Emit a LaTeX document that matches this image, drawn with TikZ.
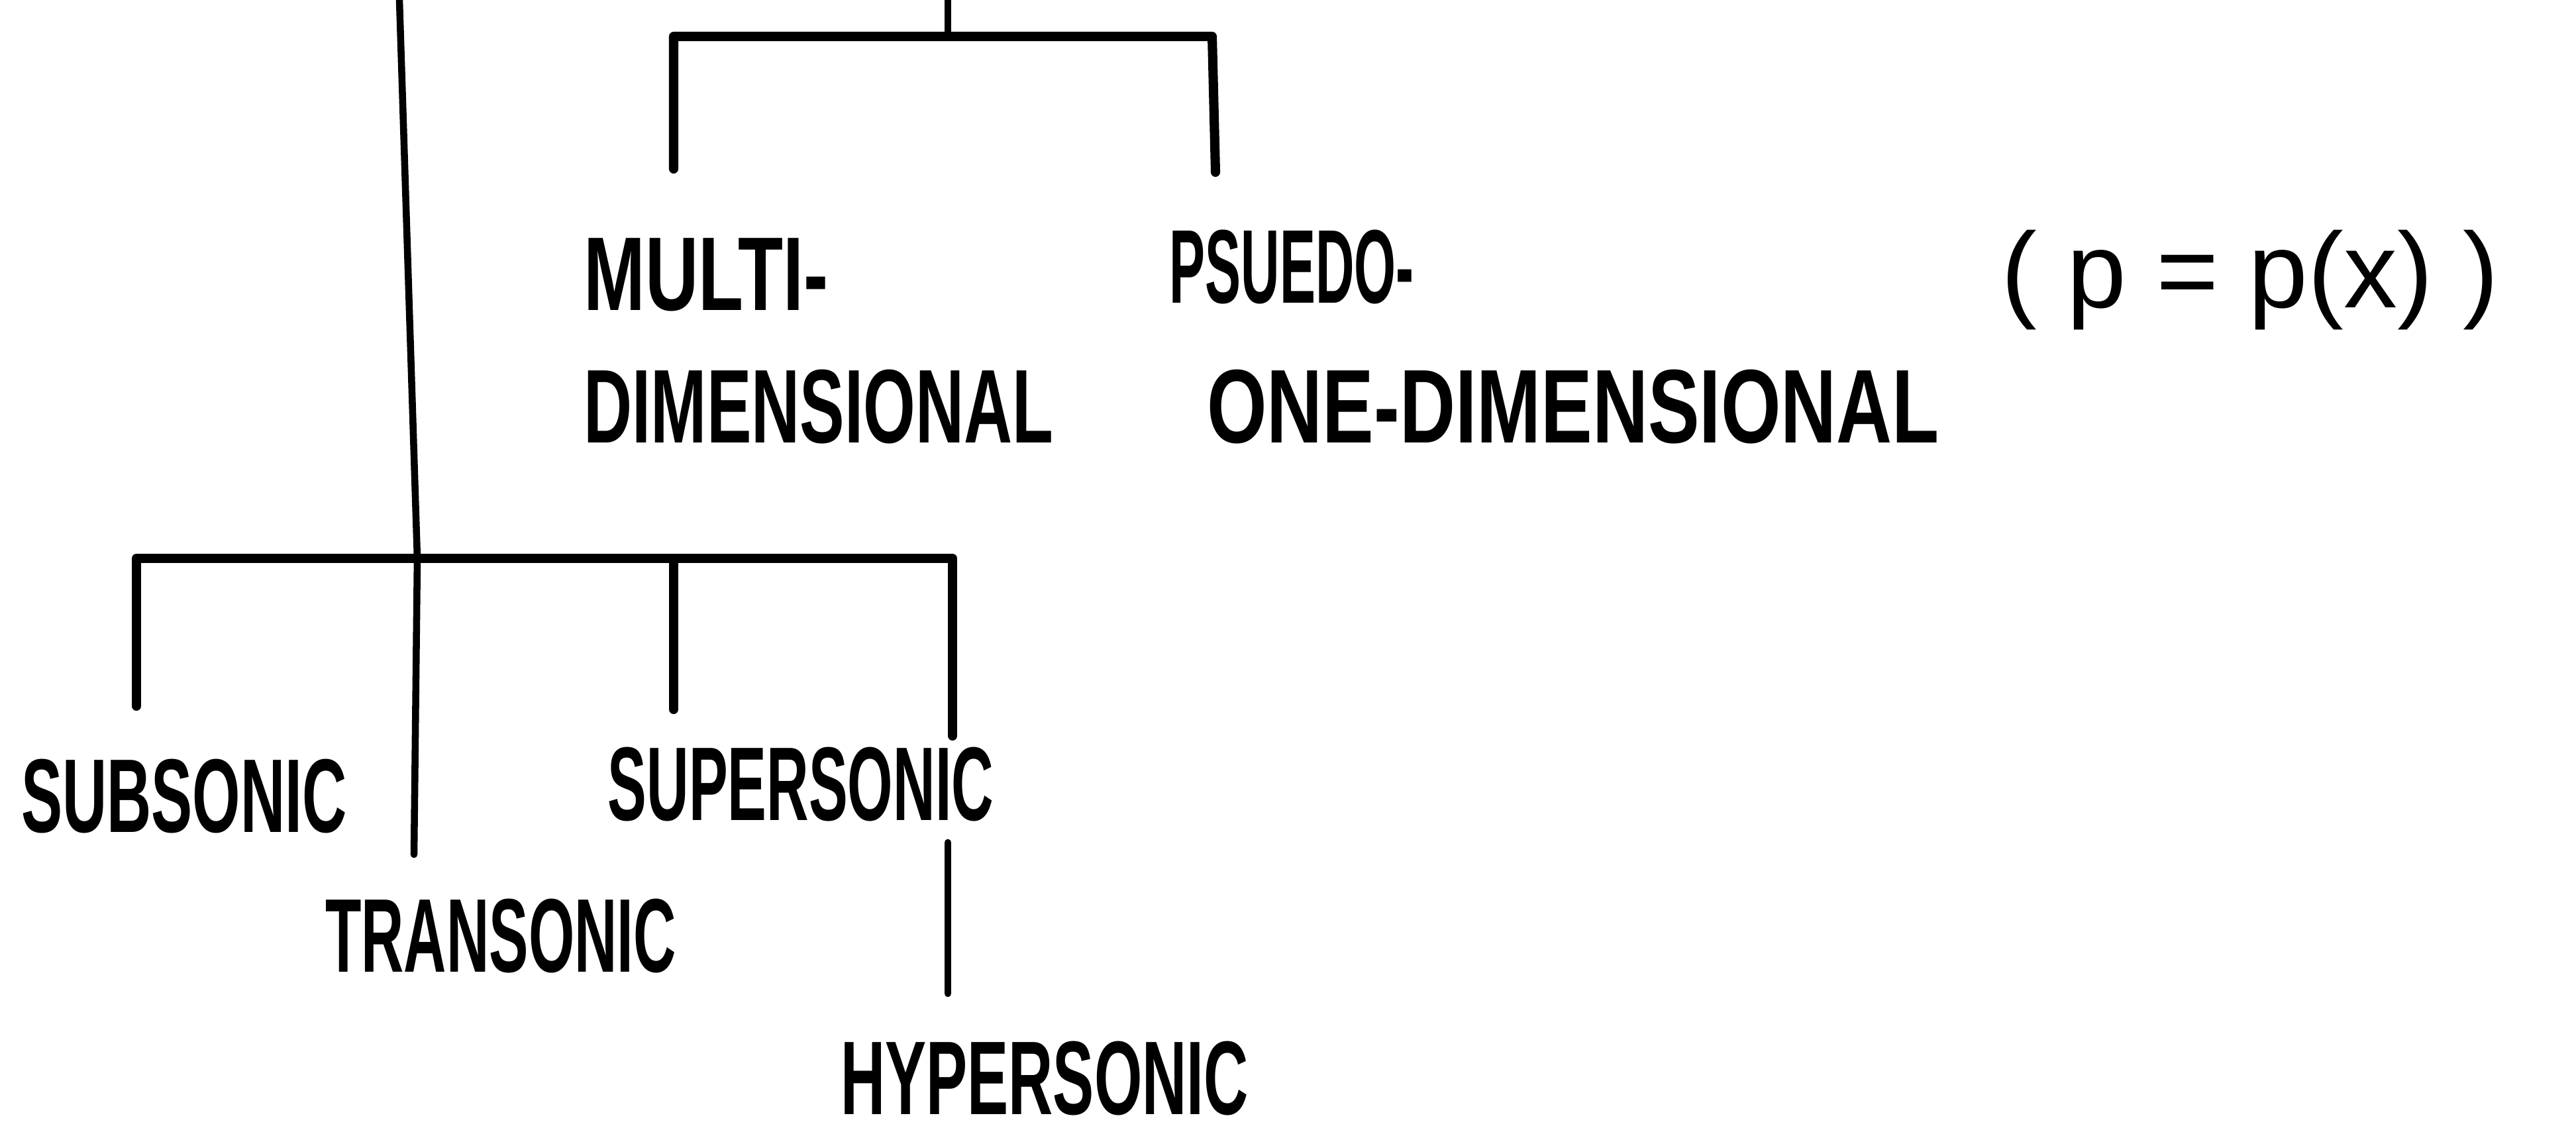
\documentclass[tikz,border=0pt]{standalone}
\usepackage{graphicx}
\usepackage{fontspec}
\newfontfamily\handfont[FakeStretch=0.64]{Liberation Sans Bold}
\newfontfamily\handwide{Liberation Sans}
% horizontally squeeze or widen a handwritten word
\newcommand\hw[2]{\scalebox{#1}[1]{#2}}
\begin{document}
\begin{tikzpicture}[
  x=1cm, y=1cm,
  wire/.style={line width=3pt, line cap=round, line join=round},
  bar/.style={line width=4pt, line cap=round, line join=round},
  label/.style={font=\handfont\fontsize{45}{45}\selectfont, inner sep=0pt, anchor=center},
  formula/.style={font=\handwide\fontsize{46}{46}\selectfont, inner sep=0pt, anchor=center}
]
\useasboundingbox (0,0) rectangle (38.89,17.08);

% upper branch: multi-dimensional vs pseudo-one-dimensional
\coordinate (topstem) at (14.31,17.08);
\coordinate (topmid) at (14.31,16.53);
\coordinate (topL) at (10.17,16.53);
\coordinate (topR) at (18.30,16.53);
\coordinate (legMulti) at (10.17,14.53);
\coordinate (legPseudo) at (18.35,14.48);

\node[label] (multi) at (10.66,12.93) {\hw{1.1}{MULTI-}};
\node[label] (dimen) at (12.36,10.94) {DIMENSIONAL};
\node[label] (pseudo) at (19.50,13.05) {\hw{0.8}{PSUEDO-}};
\node[label] (onedim) at (23.75,10.94) {\hw{1.15}{ONE-DIMENSIONAL}};
\node[formula] (pofx) at (33.97,12.85) {( p = p(x) )};

\draw[wire] (topstem) -- (topmid);
\draw[bar] (legMulti) -- (topL) -- (topR) -- (legPseudo);

% main trunk and the speed-regime branch
\coordinate (trunktop) at (6.03,17.08);
\coordinate (junction) at (6.30,8.65);
\coordinate (legTrans) at (6.25,4.18);
\coordinate (botL) at (2.06,8.65);
\coordinate (botR) at (14.38,8.65);
\coordinate (botS) at (10.17,8.65);
\coordinate (legSub) at (2.06,6.42);
\coordinate (legSuper) at (10.17,6.37);
\coordinate (legRight) at (14.38,5.97);
\coordinate (hypTop) at (14.31,4.36);
\coordinate (hypBot) at (14.31,2.08);

\node[label] (subsonic) at (2.78,5.06) {\hw{0.92}{SUBSONIC}};
\node[label] (transonic) at (7.56,2.95) {\hw{0.88}{TRANSONIC}};
\node[label] (supersonic) at (12.09,5.24) {\hw{0.87}{SUPERSONIC}};
\node[label] (hypersonic) at (15.77,0.80) {\hw{0.92}{HYPERSONIC}};

\draw[wire] (trunktop) -- (junction) -- (legTrans);
\draw[bar] (legSub) -- (botL) -- (botR) -- (legRight);
\draw[bar] (botS) -- (legSuper);
\draw[wire] (hypTop) -- (hypBot);
\end{tikzpicture}
\end{document}
